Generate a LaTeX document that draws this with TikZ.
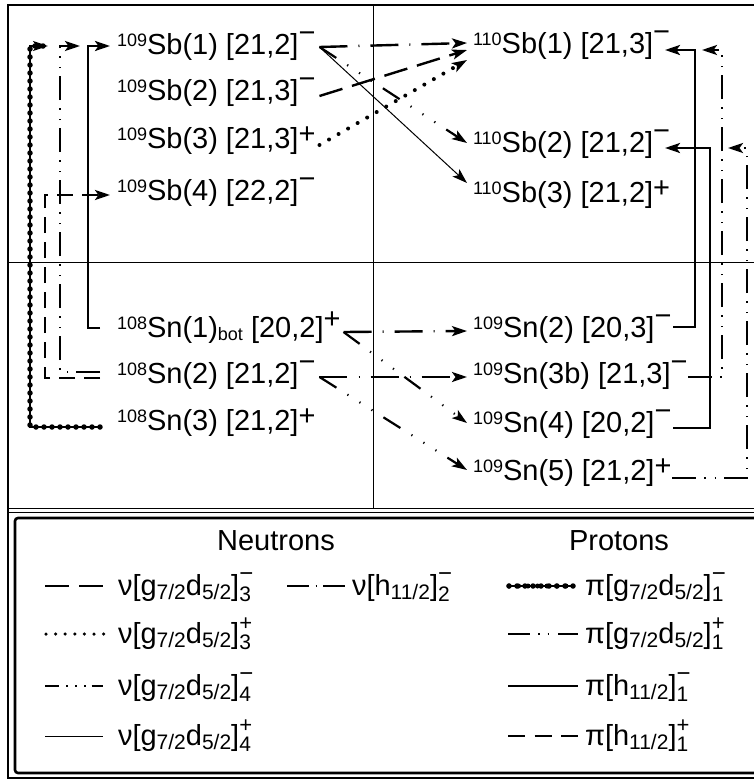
\documentclass[tikz,border=0pt]{standalone}
\usepackage{fontspec}
\setmainfont{Liberation Sans}
\usetikzlibrary{arrows.meta,calc}
\newcommand\iso[1]{\raisebox{8pt}{\fontsize{18}{18}\selectfont #1}}
\newcommand\sgm{\raisebox{12pt}{−}}
\newcommand\sgp{\raisebox{5pt}{+}}
\newcommand\sgpp{\raisebox{9pt}{+}}
\newcommand\sbs[1]{\raisebox{-4pt}{\fontsize{21}{21}\selectfont #1}}
\newcommand\botsub{\raisebox{-3pt}{\fontsize{18}{18}\selectfont bot}}
\newcommand\qsubm[1]{\rlap{\raisebox{-6pt}{\fontsize{21}{21}\selectfont #1}}\raisebox{14pt}{\fontsize{24}{24}\selectfont −}}
\newcommand\qsubp[1]{\rlap{\raisebox{-6pt}{\fontsize{21}{21}\selectfont #1}}\raisebox{13pt}{\fontsize{22}{22}\selectfont +}}
\tikzset{
  lbl/.style={inner sep=0pt, outer sep=0pt, anchor=base west, font=\fontsize{29}{34}\selectfont},
  tip/.style={-{Stealth[length=15pt,width=10pt,inset=3.5pt]}},
  nudash/.style={line width=2.4pt, dash pattern=on 24pt off 10pt},
  nuhdd/.style={line width=2.4pt, dash pattern=on 28pt off 11pt on 1pt off 11pt},
  nudot/.style={line width=4pt, line cap=round, dash pattern=on 0pt off 11pt},
  nuddd/.style={line width=2.2pt, dash pattern=on 20pt off 13pt on 1.2pt off 13pt on 1.2pt off 13pt on 1.2pt off 13pt},
  nuthin/.style={line width=1pt},
  pidot/.style={line width=1.5pt, postaction={draw, arrows=-, line width=5.5pt, line cap=round, dash pattern=on 0pt off 8pt}},
  pidd/.style={line width=2.4pt, dash pattern=on 24pt off 8pt on 1.5pt off 9pt on 1.5pt off 8pt},
  pisolid/.style={line width=2.6pt},
  pidash/.style={line width=2.4pt, dash pattern=on 16pt off 9pt},
  thinrule/.style={line width=1pt},
  framerule/.style={line width=1.8pt},
}
\begin{document}
\begin{tikzpicture}[x=1pt,y=-1pt]
\useasboundingbox (0,0) rectangle (754,779);
% frames and grid
\draw[framerule] (758,5) -- (8,5) -- (8,778) -- (758,778);
\draw[thinrule] (8,508) -- (758,508);
\draw[thinrule] (8,512) -- (758,512);
\draw[line width=2.6pt, rounded corners=3pt] (760,518) -- (15,518) -- (15,773) -- (760,773);
\draw[thinrule] (373,5) -- (373,508);
\draw[thinrule] (8,262) -- (758,262);
% nodes
\node[lbl] (A1) at (117,54) {\iso{109}Sb(1) [21,2]\sgm};
\node[lbl] (A2) at (117,100) {\iso{109}Sb(2) [21,3]\sgm};
\node[lbl] (A3) at (117,148) {\iso{109}Sb(3) [21,3]\sgp};
\node[lbl] (A4) at (117,200) {\iso{109}Sb(4) [22,2]\sgm};
\node[lbl] (B1) at (473,53) {\iso{110}Sb(1) [21,3]\sgm};
\node[lbl] (B2) at (473,152) {\iso{110}Sb(2) [21,2]\sgm};
\node[lbl] (B3) at (473,202) {\iso{110}Sb(3) [21,2]\sgp};
\node[lbl] (C1) at (117,337) {\iso{108}Sn(1)\botsub{} [20,2]\sgpp};
\node[lbl] (C2) at (117,383) {\iso{108}Sn(2) [21,2]\sgm};
\node[lbl] (C3) at (117,430) {\iso{108}Sn(3) [21,2]\sgp};
\node[lbl] (D2) at (473,337) {\iso{109}Sn(2) [20,3]\sgm};
\node[lbl] (D3) at (473,383) {\iso{109}Sn(3b) [21,3]\sgm};
\node[lbl] (D4) at (473,432) {\iso{109}Sn(4) [20,2]\sgm};
\node[lbl] (D5) at (473,480) {\iso{109}Sn(5) [21,2]\sgp};
% neutron transitions 109Sb -> 110Sb
\draw[nuhdd,tip] ($(A1.base east)+(4,-7)$) -- ($(B1.base west)+(-6,-10)$);
\draw[nuddd,tip] ($(A1.base east)+(4,-7)$) -- ($(B2.base west)+(-6,-9)$);
\draw[nuthin,tip] ($(A1.base east)+(4,-7)$) -- ($(B3.base west)+(-6,-19)$);
\draw[nudash,tip] ($(A2.base east)+(4,-4)$) -- ($(B1.base west)+(-6,-3)$);
\draw[nudot,tip] ($(A3.base east)+(4,-3)$) -- ($(B1.base west)+(-6,7)$);
% neutron transitions 108Sn -> 109Sn
\draw[nuhdd,tip] ($(C1.base east)+(3,-5)$) -- ($(D2.base west)+(-6,-6)$);
\draw[nuddd,tip] ($(C1.base east)+(3,-5)$) -- ($(D4.base west)+(-6,-9)$);
\draw[nuhdd,tip] ($(C2.base east)+(4,-6)$) -- ($(D3.base west)+(-6,-6)$);
\draw[nuddd,tip] ($(C2.base east)+(4,-6)$) -- ($(D5.base west)+(-6,-10)$);
% proton transitions 108Sn -> 109Sb
\draw[pidot,tip] ($(C3.base west)+(-17,-3)$) -| ($(A1.base west)+(-87,-8)$) -- ($(A1.base west)+(-69,-8)$);
\draw[pidd,tip] ($(C2.base west)+(-17,-11)$) -| ($(A1.base west)+(-57,-8)$) -- ($(A1.base west)+(-37,-8)$);
\draw[pidash,tip] ($(C2.base west)+(-17,-5)$) -| ($(A4.base west)+(-72,-5)$) -- ($(A4.base west)+(-7,-5)$);
\draw[pisolid,tip] ($(C1.base west)+(-17,-9)$) -| ($(A1.base west)+(-29,-8)$) -- ($(A1.base west)+(-7,-8)$);
% proton transitions 109Sn -> 110Sb
\draw[pisolid,tip] ($(D2.base west)+(200,-10)$) -| ($(B1.base west)+(222,-3)$) -- ($(B1.base west)+(192,-3)$);
\draw[pisolid,tip] ($(D4.base west)+(200,-4)$) -| ($(B2.base west)+(237,-4)$) -- ($(B2.base west)+(192,-4)$);
\draw[pidd,tip] ($(D3.base west)+(215,-6)$) -| ($(B1.base west)+(249,-3)$) -- ($(B1.base west)+(229,-3)$);
\draw[pidd,tip] ($(D5.base west)+(199,-2)$) -| ($(B2.base west)+(274,-4)$) -- ($(B2.base west)+(255,-4)$);
% legend
\node[lbl, anchor=base] (HN) at (276,550) {Neutrons};
\node[lbl, anchor=base] (HP) at (619,550) {Protons};
\node[lbl] (L1) at (118,595) {ν[g\sbs{7/2}d\sbs{5/2}]\qsubm{3}};
\node[lbl] (L2) at (352,595) {ν[h\sbs{11/2}]\qsubm{2}};
\node[lbl] (L3) at (585,595) {π[g\sbs{7/2}d\sbs{5/2}]\qsubm{1}};
\node[lbl] (L4) at (118,643) {ν[g\sbs{7/2}d\sbs{5/2}]\qsubp{3}};
\node[lbl] (L5) at (585,643) {π[g\sbs{7/2}d\sbs{5/2}]\qsubp{1}};
\node[lbl] (L6) at (118,695) {ν[g\sbs{7/2}d\sbs{5/2}]\qsubm{4}};
\node[lbl] (L7) at (585,695) {π[h\sbs{11/2}]\qsubm{1}};
\node[lbl] (L8) at (118,745) {ν[g\sbs{7/2}d\sbs{5/2}]\qsubp{4}};
\node[lbl] (L9) at (585,745) {π[h\sbs{11/2}]\qsubp{1}};
\draw[nudash] ($(L1.base west)+(-73,-9)$) -- ++(58,0);
\draw[nuhdd, dash pattern=on 22pt off 6.5pt on 1.2pt off 6.5pt] ($(L2.base west)+(-65,-9)$) -- ++(58,0);
\draw[pidot, postaction={draw, line width=5pt, line cap=round, dash pattern=on 0pt off 9.5pt}] ($(L3.base west)+(-76,-9)$) -- ++(66,0);
\draw[nudot, line width=3.5pt, dash pattern=on 0pt off 9.6pt] ($(L4.base west)+(-72,-9)$) -- ++(58,0);
\draw[pidd, dash pattern=on 22pt off 8pt on 1.5pt off 8pt on 1.5pt off 9pt] ($(L5.base west)+(-77,-9)$) -- ++(70,0);
\draw[nuddd, dash pattern=on 14pt off 7pt on 1.5pt off 7.5pt on 1.5pt off 7.5pt on 1.5pt off 6pt] ($(L6.base west)+(-73,-9)$) -- ++(58,0);
\draw[pisolid] ($(L7.base west)+(-77,-9)$) -- ++(70,0);
\draw[nuthin] ($(L8.base west)+(-73,-9)$) -- ++(58,0);
\draw[pidash, dash pattern=on 17pt off 9.5pt] ($(L9.base west)+(-77,-9)$) -- ++(70,0);
\end{tikzpicture}
\end{document}
